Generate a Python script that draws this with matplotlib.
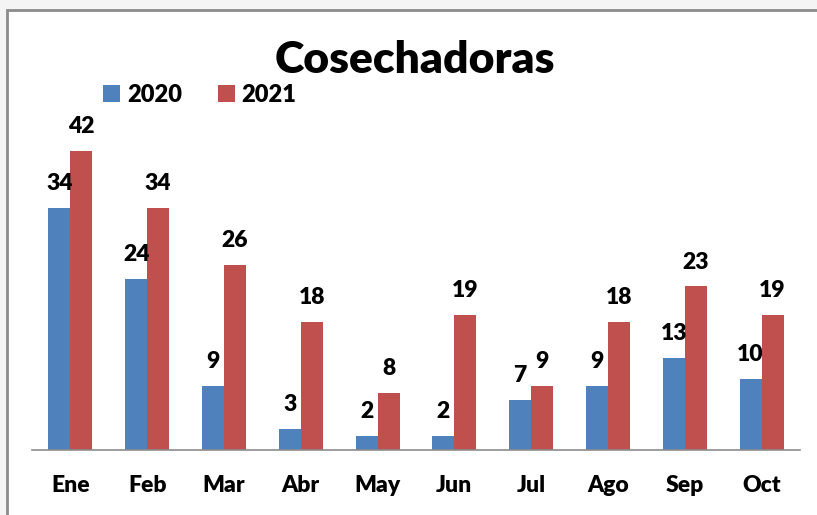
import numpy as np
import matplotlib
matplotlib.use("Agg")
import matplotlib.pyplot as plt
from matplotlib.patches import Rectangle

# chart data
months = ["Ene", "Feb", "Mar", "Abr", "May", "Jun", "Jul", "Ago", "Sep", "Oct"]
values_2020 = [34, 24, 9, 3, 2, 2, 7, 9, 13, 10]
values_2021 = [42, 34, 26, 18, 8, 19, 9, 18, 23, 19]

plt.rcParams['font.family'] = ['Lato', 'DejaVu Sans']

W, H = 817, 515
fig = plt.figure(figsize=(W / 100, H / 100), dpi=100)
fig.patch.set_facecolor('#f4f4f4')

# white chart area with gray border
fig.patches.append(Rectangle((7 / W, -0.05), 1.1, 1 - 10 / H + 0.05, transform=fig.transFigure,
                             facecolor='white', edgecolor='#8c8c8c', linewidth=2, zorder=-5))

ax = fig.add_axes([32 / W, 65 / H, 768 / W, 320 / H])
ax.set_facecolor('none')
ax.set_zorder(2)

x = np.arange(len(months))
width = 0.286
bars1 = ax.bar(x - width / 2, values_2020, width, color='#4f81bd', label='2020')
bars2 = ax.bar(x + width / 2, values_2021, width, color='#c0504d', label='2021')

# value labels
for bars in (bars1, bars2):
    for b in bars:
        ax.annotate(f"{int(b.get_height())}", (b.get_x() + b.get_width() / 2, b.get_height()),
                    xytext=(0, 10), textcoords='offset points', ha='center', va='bottom',
                    fontsize=16.5, fontweight='heavy', color='black', annotation_clip=False)

ax.set_xlim(-0.5, len(months) - 0.5)
ax.set_ylim(0, 45)
ax.set_yticks([])
ax.set_xticks(x)
ax.set_xticklabels(months, fontsize=16.5, fontweight='heavy')
ax.tick_params(axis='x', length=0, pad=18)
for s in ['top', 'left', 'right']:
    ax.spines[s].set_visible(False)
ax.spines['bottom'].set_color('#8c8c8c')
ax.spines['bottom'].set_linewidth(1.2)

fig.text(415 / W, 1 - 60 / H, "Cosechadoras", ha='center', va='center',
         fontsize=32, fontweight='heavy', zorder=3)

fig.legend(handles=[bars1, bars2], loc='center left', bbox_to_anchor=(103 / W, 1 - 95 / H),
           frameon=False, ncol=2, prop={'size': 17, 'weight': 'heavy'},
           handlelength=0.72, handleheight=0.72, handletextpad=0.3,
           columnspacing=1.5, borderpad=0, borderaxespad=0).set_zorder(3)

fig.savefig("out.png", dpi=100, facecolor=fig.get_facecolor())
